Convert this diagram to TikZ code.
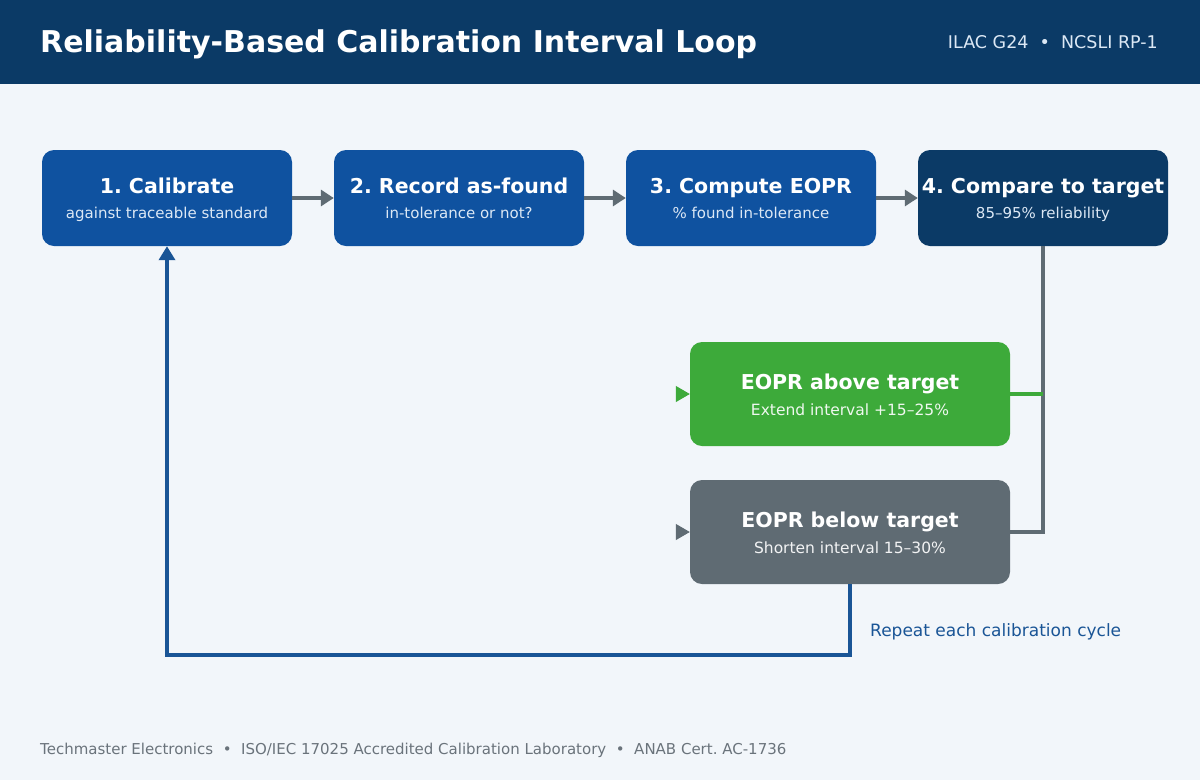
\documentclass[tikz,border=0pt]{standalone}
\usepackage{fontspec}
\setmainfont{DejaVu Sans}
\usetikzlibrary{arrows.meta,positioning}
\frenchspacing

\definecolor{headnavy}{HTML}{0B3A66}
\definecolor{stepblue}{HTML}{0F52A0}
\definecolor{paper}{HTML}{F2F6FA}
\definecolor{okgreen}{HTML}{3DAA3A}
\definecolor{slate}{HTML}{5F6B73}
\definecolor{loopblue}{HTML}{1A5596}
\definecolor{subtext}{HTML}{DCE8F5}
\definecolor{foottext}{HTML}{6A737B}

\tikzset{
  stepbox/.style={rounded corners=12pt, minimum width=250pt, minimum height=96pt,
    text=white, align=center, inner sep=0pt, font=\fontsize{15}{25}\selectfont},
  outbox/.style={rounded corners=12pt, minimum width=320pt, minimum height=104pt,
    text=white, align=center, inner sep=0pt, font=\fontsize{15.5}{26}\selectfont},
  flow/.style={slate, line width=4.5pt, -{Triangle[length=13pt,width=16pt]}},
  tip/.style={-{Triangle[length=14pt,width=16pt]}, line width=1pt},
}
\newcommand{\steptitle}[1]{{\fontsize{20.5}{25}\selectfont\bfseries\vphantom{Ag}\rule{0pt}{19.5pt}#1}}
\newcommand{\stepnote}[1]{{\fontsize{15}{25}\selectfont\color{subtext}\vphantom{Ag}#1}}

\begin{document}
\begin{tikzpicture}[x=1pt,y=-1pt]
    % page and header
    \fill[paper] (0,0) rectangle (1200,780);
    \fill[headnavy] (0,0) rectangle (1200,84);
    \node[anchor=base west, inner sep=0pt, text=white, font=\fontsize{30}{34}\selectfont\bfseries] (title) at (40,52)
        {Reliability-Based Calibration Interval Loop};
    \node[anchor=base east, inner sep=0pt, text=subtext, font=\fontsize{17.5}{20}\selectfont] (refs) at (1158,48)
        {ILAC G24 \ • \ NCSLI RP-1};

    % main steps
    \node[stepbox, fill=stepblue] (calib) at (167,198)
        {\steptitle{1. Calibrate}\\\stepnote{against traceable standard}};
    \node[stepbox, fill=stepblue] (record) at (459,198)
        {\steptitle{2. Record as-found}\\\stepnote{in-tolerance or not?}};
    \node[stepbox, fill=stepblue] (eopr) at (751,198)
        {\steptitle{3. Compute EOPR}\\\stepnote{\% found in-tolerance}};
    \node[stepbox, fill=headnavy] (target) at (1043,198)
        {\steptitle{4. Compare to target}\\\stepnote{85–95\% reliability}};

    \draw[flow] (calib) -- (record);
    \draw[flow] (record) -- (eopr);
    \draw[flow] (eopr) -- (target);

    % outcomes
    \node[outbox, fill=okgreen] (above) at (850,394)
        {\steptitle{EOPR above target}\\{\color{white!92!okgreen}\vphantom{Ag}Extend interval +15–25\%}};
    \node[outbox, fill=slate] (below) at (850,532)
        {\steptitle{EOPR below target}\\{\color{white!92!slate}\vphantom{Ag}Shorten interval 15–30\%}};

    \draw[slate, line width=4pt] (target.south) -- (target.south |- below.east) -- (below.east);
    \draw[okgreen, line width=4pt] (above.east) -- (above.east -| target.south);

    \coordinate (aboveIn) at (676,394);
    \coordinate (belowIn) at (676,532);
    \draw[tip, okgreen] (aboveIn) -- (above.west);
    \draw[tip, slate] (belowIn) -- (below.west);

    % feedback loop
    \draw[loopblue, line width=4pt, -{Triangle[length=14pt,width=16pt]}]
        (below.south) -- ++(0,71) -| (calib.south);
    \node[anchor=base west, inner sep=0pt, text=loopblue, font=\fontsize{17}{20}\selectfont] (repeat) at (870,636)
        {Repeat each calibration cycle};

    % footer
    \node[anchor=base west, inner sep=0pt, text=foottext, font=\fontsize{15}{18}\selectfont] (footer) at (40,754)
        {Techmaster Electronics \ • \ ISO/IEC 17025 Accredited Calibration Laboratory \ • \ ANAB Cert. AC-1736};
\end{tikzpicture}
\end{document}
